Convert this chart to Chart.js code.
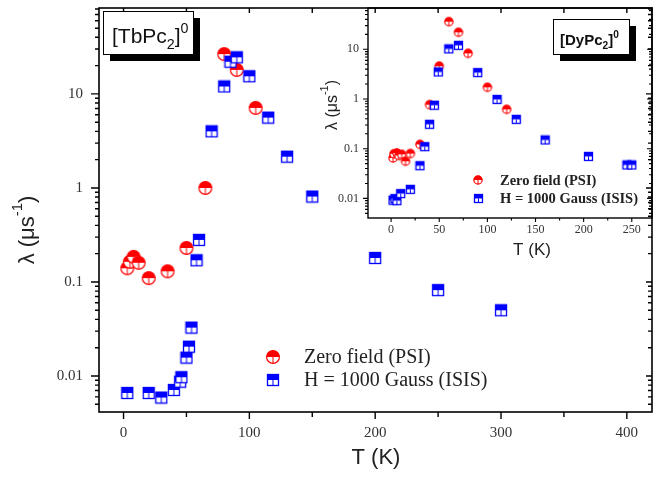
<!DOCTYPE html>
<html>
<head>
<meta charset="utf-8">
<script src="https://cdn.jsdelivr.net/npm/chart.js@4.4.1/dist/chart.umd.min.js"></script>
<style>
  html, body { margin: 0; padding: 0; background: #fff; }
  #wrap { position: relative; width: 669px; height: 477px; overflow: hidden; }
  #mainChart { position: absolute; left: 0; top: 0; }
  #insetChart { position: absolute; left: 320px; top: 0; }
</style>
</head>
<body>
<div id="wrap">
  <canvas id="mainChart" width="669" height="477"></canvas>
  <canvas id="insetChart" width="349" height="265"></canvas>
</div>
<script>
// series names
const seriesNames = ['Zero field (PSI)', 'H = 1000 Gauss (ISIS)'];

// main panel, [TbPc2]0
const mainZeroT = [3, 5, 8, 12, 20, 35, 50, 65, 80, 90, 105];
const mainZeroLambda = [0.14, 0.164, 0.185, 0.16, 0.11, 0.13, 0.23, 1.0, 26.5, 18, 7.1];
const mainFieldT = [3, 20, 30, 40, 45, 46, 50, 52, 54, 58, 60, 70, 80, 85, 90, 100, 115, 130, 150, 200, 250, 300];
const mainFieldLambda = [0.0066, 0.0066, 0.0059, 0.0071, 0.0087, 0.0097, 0.0157, 0.0205, 0.0327, 0.17, 0.28, 4.0, 12, 22, 24.5, 15.4, 5.6, 2.15, 0.81, 0.18, 0.082, 0.05];

// inset, [DyPc2]0
const insetZeroT = [2, 3, 6, 8, 11, 15, 20, 30, 40, 50, 60, 70, 80, 100, 120];
const insetZeroLambda = [0.065, 0.079, 0.082, 0.073, 0.077, 0.056, 0.08, 0.122, 0.77, 4.6, 36, 22, 8.3, 1.72, 0.62];
const insetFieldT = [2, 4, 6, 10, 20, 30, 35, 40, 45, 49, 60, 70, 90, 110, 130, 160, 205, 245, 250];
const insetFieldLambda = [0.0092, 0.0099, 0.009, 0.0125, 0.0152, 0.0455, 0.11, 0.31, 0.75, 3.5, 10.2, 12, 3.4, 0.98, 0.39, 0.15, 0.07, 0.047, 0.047];

// axes
const mainXTicks = [0, 100, 200, 300, 400];
const mainXMinor = [0, 50, 100, 150, 200, 250, 300, 350, 400];
const mainYTicks = [0.01, 0.1, 1, 10];
const mainYTickLabels = ['0.01', '0.1', '1', '10'];
const insetXTicks = [0, 50, 100, 150, 200, 250];
const insetXMinor = [0, 25, 50, 75, 100, 125, 150, 175, 200, 225, 250];
const insetYTicks = [0.01, 0.1, 1, 10];
const insetYTickLabels = ['0.01', '0.1', '1', '10'];

const RED = '#ff0000';
const BLUE = '#0000ff';
const SERIF = '"Liberation Serif", "Times New Roman", serif';
const SANS = '"Liberation Sans", Arial, sans-serif';

function circleMarker(d, color, bar) {
  const s = Math.ceil(d) + 2;
  const c = document.createElement('canvas');
  c.width = s; c.height = s;
  const g = c.getContext('2d');
  const cx = s / 2, cy = s / 2, r = d / 2 - 0.6;
  g.fillStyle = '#fff';
  g.beginPath(); g.arc(cx, cy, r, 0, Math.PI * 2); g.fill();
  g.fillStyle = color;
  g.beginPath(); g.arc(cx, cy, r, Math.PI, 0); g.closePath(); g.fill();
  g.strokeStyle = color; g.lineWidth = 1.2;
  g.beginPath(); g.arc(cx, cy, r, 0, Math.PI * 2); g.stroke();
  if (bar) {
    g.lineWidth = 1;
    g.beginPath(); g.moveTo(cx, cy); g.lineTo(cx, cy + r); g.stroke();
  }
  return c;
}

function squareMarker(d, color, bar) {
  const s = Math.ceil(d) + 2;
  const c = document.createElement('canvas');
  c.width = s; c.height = s;
  const g = c.getContext('2d');
  const x0 = 1.5, w = s - 3;
  g.fillStyle = '#fff';
  g.fillRect(x0, x0, w, w);
  g.fillStyle = color;
  g.fillRect(x0, x0, w, w / 2);
  g.strokeStyle = color; g.lineWidth = 1.3;
  g.strokeRect(x0, x0, w, w);
  if (bar) {
    g.lineWidth = 1;
    g.beginPath(); g.moveTo(s / 2, x0 + w / 2); g.lineTo(s / 2, x0 + w); g.stroke();
  }
  return c;
}

const mainCircle = circleMarker(14, RED, true);
const mainSquare = squareMarker(12, BLUE, true);
const insetCircle = circleMarker(9.5, RED, true);
const insetSquare = squareMarker(9, BLUE, true);

function toPoints(xs, ys) {
  return xs.map((x, i) => ({ x: x, y: ys[i] }));
}

function logMinor(min, max) {
  const out = [];
  for (let e = -3; e <= 2; e++) {
    for (let k = 1; k <= 9; k++) {
      const v = k * Math.pow(10, e);
      if (v >= min && v <= max) out.push({ v: v, major: k === 1 });
    }
  }
  return out;
}

function richText(ctx, x, y, parts, size, weight, family) {
  parts.forEach(([t, kind]) => {
    const fs = kind === 'n' ? size : size * 0.68;
    const dy = kind === 'sub' ? size * 0.28 : kind === 'sup' ? -size * 0.48 : 0;
    ctx.font = weight + ' ' + fs + 'px ' + family;
    ctx.fillText(t, x, y + dy);
    x += ctx.measureText(t).width;
  });
  return x;
}

function richWidth(ctx, parts, size, weight, family) {
  let w = 0;
  parts.forEach(([t, kind]) => {
    const fs = kind === 'n' ? size : size * 0.68;
    ctx.font = weight + ' ' + fs + 'px ' + family;
    w += ctx.measureText(t).width;
  });
  return w;
}

const decor = {
  id: 'decor',
  beforeDatasetsDraw(chart, args, o) {
    const { ctx, chartArea: a, scales: { x, y } } = chart;
    ctx.save();
    ctx.strokeStyle = '#000';
    ctx.lineWidth = o.frameWidth;
    ctx.strokeRect(a.left, a.top, a.right - a.left, a.bottom - a.top);
    ctx.lineWidth = o.tickWidth;
    ctx.beginPath();
    o.xMinor.forEach(v => {
      const p = x.getPixelForValue(v);
      const major = o.xMajor.includes(v);
      ctx.moveTo(p, a.bottom); ctx.lineTo(p, a.bottom + (major ? o.xLen[0] : o.xLen[1]));
      if (o.topLen) {
        ctx.moveTo(p, a.top); ctx.lineTo(p, a.top + (major ? o.topLen[0] : o.topLen[1]));
      }
    });
    logMinor(y.min, y.max).forEach(t => {
      const p = y.getPixelForValue(t.v);
      ctx.moveTo(a.left, p); ctx.lineTo(a.left - (t.major ? o.yLen[0] : o.yLen[1]), p);
      if (o.rightLen) {
        ctx.moveTo(a.right, p); ctx.lineTo(a.right - (t.major ? o.rightLen[0] : o.rightLen[1]), p);
      }
    });
    ctx.stroke();
    ctx.restore();
  },
  afterDraw(chart, args, o) {
    const ctx = chart.ctx;
    ctx.save();
    ctx.fillStyle = '#222';
    ctx.textBaseline = 'middle';

    // axis titles
    const yt = o.yTitle;
    const yw = richWidth(ctx, yt.parts, yt.size, 'normal', SANS);
    ctx.save();
    ctx.translate(yt.x, yt.y);
    ctx.rotate(-Math.PI / 2);
    richText(ctx, -yw / 2, 0, yt.parts, yt.size, 'normal', SANS);
    ctx.restore();
    const xt = o.xTitle;
    ctx.font = xt.size + 'px ' + SANS;
    ctx.textAlign = 'center';
    ctx.fillText(xt.text, xt.x, xt.y);
    ctx.textAlign = 'left';

    // compound label box with shadow
    const b = o.box;
    ctx.fillStyle = '#000';
    ctx.fillRect(b.x + b.shadow, b.y + b.shadow, b.w, b.h);
    ctx.fillStyle = '#fff';
    ctx.fillRect(b.x, b.y, b.w, b.h);
    ctx.strokeStyle = '#000';
    ctx.lineWidth = 1;
    ctx.strokeRect(b.x + 0.5, b.y + 0.5, b.w, b.h);
    ctx.fillStyle = '#111';
    ctx.textBaseline = 'alphabetic';
    richText(ctx, b.tx, b.ty, b.parts, b.size, b.weight, SANS);

    // legend
    const lg = o.legend;
    ctx.textBaseline = 'middle';
    ctx.fillStyle = '#222';
    ctx.font = lg.weight + ' ' + lg.size + 'px ' + SERIF;
    chart.data.datasets.forEach((ds, i) => {
      const img = ds.pointStyle;
      const yy = lg.y + i * lg.gap;
      ctx.drawImage(img, Math.round(lg.sx - img.width / 2), Math.round(yy - img.height / 2));
      ctx.fillText(ds.label, lg.tx, yy + 1);
    });
    ctx.restore();
  }
};

function scaleOpts(cfg) {
  return {
    x: {
      type: 'linear', min: cfg.xMin, max: cfg.xMax,
      afterBuildTicks: s => { s.ticks = cfg.xTicks.map(v => ({ value: v })); },
      afterFit: s => {
        s.height = cfg.xHeight;
        s.paddingLeft = 0; s.paddingRight = 0; s.paddingTop = 0; s.paddingBottom = 0;
      },
      grid: { display: false, drawTicks: false },
      border: { display: false },
      ticks: {
        autoSkip: false, maxRotation: 0, padding: cfg.xPad, color: '#333',
        font: { family: SERIF, size: cfg.tickSize },
        callback: v => String(v)
      }
    },
    y: {
      type: 'logarithmic', min: cfg.yMin, max: cfg.yMax,
      afterBuildTicks: s => { s.ticks = cfg.yTicks.map(v => ({ value: v })); },
      afterFit: s => {
        s.width = cfg.yWidth;
        s.paddingLeft = 0; s.paddingRight = 0; s.paddingTop = 0; s.paddingBottom = 0;
      },
      grid: { display: false, drawTicks: false },
      border: { display: false },
      ticks: {
        autoSkip: false, padding: cfg.yPad, color: '#333',
        font: { family: SERIF, size: cfg.tickSize },
        callback: (v, i) => cfg.yLabels[i]
      }
    }
  };
}

new Chart(document.getElementById('mainChart'), {
  type: 'scatter',
  data: {
    datasets: [
      { label: seriesNames[0], data: toPoints(mainZeroT, mainZeroLambda), pointStyle: mainCircle, pointRadius: 7, order: 2 },
      { label: seriesNames[1], data: toPoints(mainFieldT, mainFieldLambda), pointStyle: mainSquare, pointRadius: 7, order: 1 }
    ]
  },
  options: {
    responsive: false,
    animation: false,
    devicePixelRatio: 1,
    layout: { padding: { top: 8, right: 17, left: 0, bottom: 0 } },
    scales: scaleOpts({
      xMin: -19.5, xMax: 420, xTicks: mainXTicks, xHeight: 65, xPad: 12,
      yMin: 0.00414, yMax: 82, yTicks: mainYTicks, yLabels: mainYTickLabels, yWidth: 99, yPad: 16,
      tickSize: 15
    }),
    plugins: {
      legend: { display: false },
      tooltip: { enabled: false },
      decor: {
        frameWidth: 1.6, tickWidth: 1.4,
        xMinor: mainXMinor, xMajor: mainXTicks, xLen: [7, 5], topLen: [5, 5],
        yLen: [8, 4], rightLen: [6, 4],
        yTitle: { x: 28, y: 230, size: 22, parts: [['λ (μs', 'n'], ['-1', 'sup'], [')', 'n']] },
        xTitle: { x: 376, y: 458, size: 22, text: 'T (K)' },
        box: { x: 103, y: 11, w: 90, h: 43, shadow: 7, tx: 112, ty: 43, size: 21, weight: 'normal',
               parts: [['[TbPc', 'n'], ['2', 'sub'], [']', 'n'], ['0', 'sup']] },
        legend: { sx: 273, tx: 304, y: 357, gap: 23, size: 20, weight: 'normal' }
      }
    }
  },
  plugins: [decor]
});

new Chart(document.getElementById('insetChart'), {
  type: 'scatter',
  data: {
    datasets: [
      { label: seriesNames[0], data: toPoints(insetZeroT, insetZeroLambda), pointStyle: insetCircle, pointRadius: 5, order: 2 },
      { label: seriesNames[1], data: toPoints(insetFieldT, insetFieldLambda), pointStyle: insetSquare, pointRadius: 5, order: 1 }
    ]
  },
  options: {
    responsive: false,
    animation: false,
    devicePixelRatio: 1,
    layout: { padding: { top: 8, right: 17, left: 0, bottom: 0 } },
    scales: scaleOpts({
      xMin: -24, xMax: 271, xTicks: insetXTicks, xHeight: 47, xPad: 5,
      yMin: 0.00403, yMax: 67.8, yTicks: insetYTicks, yLabels: insetYTickLabels, yWidth: 48, yPad: 9,
      tickSize: 12
    }),
    plugins: {
      legend: { display: false },
      tooltip: { enabled: false },
      decor: {
        frameWidth: 1.4, tickWidth: 1.1,
        xMinor: insetXMinor, xMajor: insetXTicks, xLen: [4, 2.5], topLen: null,
        yLen: [5, 3], rightLen: [5, 3],
        yTitle: { x: 13, y: 105, size: 16, parts: [['λ (μs', 'n'], ['-1', 'sup'], [')', 'n']] },
        xTitle: { x: 212, y: 250, size: 17, text: 'T (K)' },
        box: { x: 233, y: 19, w: 76, h: 35, shadow: 7, tx: 240, ty: 45, size: 15, weight: 'bold',
               parts: [['[DyPc', 'n'], ['2', 'sub'], [']', 'n'], ['0', 'sup']] },
        legend: { sx: 158, tx: 180, y: 180, gap: 18, size: 14.5, weight: 'bold' }
      }
    }
  },
  plugins: [decor]
});
</script>
</body>
</html>
